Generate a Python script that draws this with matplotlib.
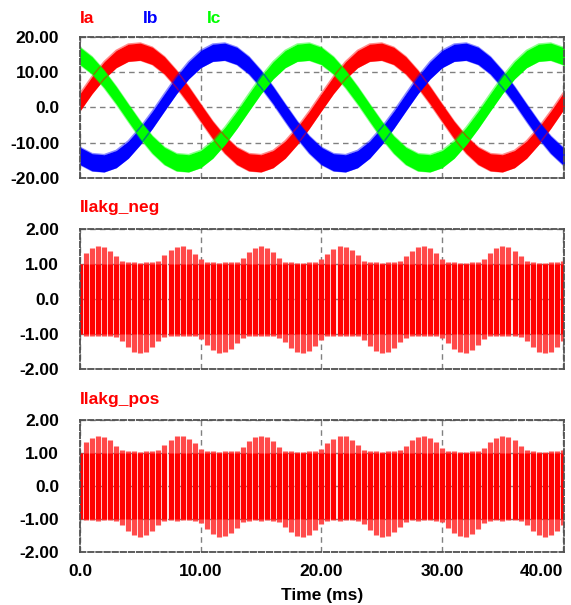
import numpy as np
import matplotlib
matplotlib.use("Agg")
import matplotlib.pyplot as plt

plt.rcParams['font.family'] = ['Liberation Sans', 'DejaVu Sans']
plt.rcParams['font.weight'] = 'bold'
plt.rcParams['font.size'] = 12.5

# phase currents, centre of the ripple band, one sample per ms (0..42 ms)
t_ph = np.arange(0, 43, 1.0)
ia = [1.5, 6.4, 10.6, 13.8, 15.6, 15.9, 14.7, 12.0, 8.1, 3.5,
      -1.5, -6.4, -10.6, -13.8, -15.6, -15.9, -14.7, -12.0, -8.1, -3.5,
      1.5, 6.4, 10.6, 13.8, 15.6, 15.9, 14.7, 12.0, 8.1, 3.5,
      -1.5, -6.4, -10.6, -13.8, -15.6, -15.9, -14.7, -12.0, -8.1, -3.5,
      1.5, 6.4, 10.6]
ib = [-13.8, -15.6, -15.9, -14.7, -12.0, -8.1, -3.5, 1.5, 6.4, 10.6,
      13.8, 15.6, 15.9, 14.7, 12.0, 8.1, 3.5, -1.5, -6.4, -10.6,
      -13.8, -15.6, -15.9, -14.7, -12.0, -8.1, -3.5, 1.5, 6.4, 10.6,
      13.8, 15.6, 15.9, 14.7, 12.0, 8.1, 3.5, -1.5, -6.4, -10.6,
      -13.8, -15.6, -15.9]
ic = [14.7, 12.0, 8.1, 3.5, -1.5, -6.4, -10.6, -13.8, -15.6, -15.9,
      -14.7, -12.0, -8.1, -3.5, 1.5, 6.4, 10.6, 13.8, 15.6, 15.9,
      14.7, 12.0, 8.1, 3.5, -1.5, -6.4, -10.6, -13.8, -15.6, -15.9,
      -14.7, -12.0, -8.1, -3.5, 1.5, 6.4, 10.6, 13.8, 15.6, 15.9,
      14.7, 12.0, 8.1]
ripple = 2.45

# leakage current envelopes, one sample per 0.5 ms (0..40.5 ms)
t_lk = np.arange(0, 40.51, 0.5)
neg_upper = [1.00, 1.32, 1.45, 1.52, 1.48, 1.38, 1.22, 1.09, 1.05, 1.05,
             1.03, 1.05, 1.06, 1.10, 1.25, 1.40, 1.50, 1.51, 1.43, 1.30,
             1.13, 1.06, 1.05, 1.03, 1.05, 1.06, 1.07, 1.18, 1.35, 1.47,
             1.52, 1.47, 1.35, 1.18, 1.07, 1.05, 1.04, 1.03, 1.05, 1.06,
             1.13, 1.30, 1.43, 1.51, 1.50, 1.40, 1.25, 1.10, 1.06, 1.05,
             1.03, 1.05, 1.06, 1.09, 1.22, 1.38, 1.48, 1.52, 1.45, 1.32,
             1.15, 1.06, 1.05, 1.03, 1.04, 1.05, 1.07, 1.15, 1.32, 1.45,
             1.52, 1.48, 1.38, 1.22, 1.09, 1.05, 1.04, 1.03, 1.05, 1.05,
             1.10, 1.25]
neg_lower = [-1.00, -1.05, -1.05, -1.06, -1.05, -1.05, -1.08, -1.20, -1.38, -1.50,
             -1.55, -1.50, -1.38, -1.20, -1.08, -1.05, -1.06, -1.05, -1.05, -1.07,
             -1.14, -1.31, -1.45, -1.54, -1.52, -1.42, -1.27, -1.11, -1.06, -1.05,
             -1.06, -1.05, -1.06, -1.10, -1.24, -1.40, -1.51, -1.55, -1.48, -1.35,
             -1.17, -1.07, -1.05, -1.06, -1.05, -1.05, -1.07, -1.17, -1.35, -1.48,
             -1.55, -1.51, -1.40, -1.24, -1.10, -1.05, -1.06, -1.05, -1.05, -1.06,
             -1.11, -1.27, -1.42, -1.52, -1.54, -1.45, -1.31, -1.14, -1.07, -1.05,
             -1.06, -1.05, -1.05, -1.08, -1.20, -1.38, -1.50, -1.55, -1.50, -1.38,
             -1.20, -1.08]
# the positive-rail trace reads the same as the negative one
pos_upper = list(neg_upper)
pos_lower = list(neg_lower)

xticks = [0, 10, 20, 30, 40]
xticklabels = ["0.0", "10.00", "20.00", "30.00", "40.00"]
yt_top = [-20, -10, 0, 10, 20]
yl_top = ["-20.00", "-10.00", "0.0", "10.00", "20.00"]
yt_lk = [-2, -1, 0, 1, 2]
yl_lk = ["-2.00", "-1.00", "0.0", "1.00", "2.00"]

W, H = 571, 605
fig = plt.figure(figsize=(W / 100, H / 100), dpi=100)


def px_axes(x0, y0, x1, y1):
    return fig.add_axes([x0 / W, 1 - y1 / H, (x1 - x0) / W, (y1 - y0) / H])


def style(ax, yt, yl, show_x):
    ax.set_xlim(0, 40.1)
    ax.set_ylim(yt[0], yt[-1])
    ax.set_yticks(yt)
    ax.set_yticklabels(yl)
    ax.set_xticks(xticks)
    if show_x:
        ax.set_xticklabels(xticklabels)
        ax.get_xticklabels()[-1].set_ha('right')
    else:
        ax.set_xticklabels([])
    ax.tick_params(length=0, pad=15, axis='y')
    ax.tick_params(length=0, pad=9, axis='x')
    ax.grid(True, color='#808080', linestyle=(0, (4, 3)), linewidth=1)
    ax.set_axisbelow(True)
    for s in ax.spines.values():
        s.set_color('#505050')
        s.set_linestyle((0, (3, 1.5)))
        s.set_linewidth(1.3)


def leak(ax, lo, up):
    # lighter tips beyond the +-1 band, solid red core
    ax.vlines(t_lk, lo, up, color='#ff4a4a', lw=3.7)
    ax.vlines(t_lk, np.clip(lo, -1.0, None), np.clip(up, None, 1.0),
              color='#ff0000', lw=3.7)


ax1 = px_axes(80, 37.3, 564, 177.7)
for y, c in [(ia, '#ff0000'), (ib, '#0000ff'), (ic, '#00ff00')]:
    y = np.array(y)
    ax1.fill_between(t_ph, y - ripple, y + ripple, color=c, lw=0)
    ax1.plot(t_ph, y + ripple, color=c, lw=1.2, alpha=0.45)
    ax1.plot(t_ph, y - ripple, color=c, lw=1.2, alpha=0.45)
style(ax1, yt_top, yl_top, False)

ax2 = px_axes(80, 229, 564, 369)
leak(ax2, neg_lower, neg_upper)
style(ax2, yt_lk, yl_lk, False)

ax3 = px_axes(80, 420, 564, 551.7)
leak(ax3, pos_lower, pos_upper)
style(ax3, yt_lk, yl_lk, True)

for txt, x, y, c in [("Ia", 80, 23, '#ff0000'), ("Ib", 143, 23, '#0000ff'),
                     ("Ic", 207, 23, '#00ff00'), ("Ilakg_neg", 80, 212, '#ff0000'),
                     ("Ilakg_pos", 80, 404, '#ff0000')]:
    fig.text(x / W, 1 - y / H, txt, color=c, ha='left', va='baseline')

fig.text(322 / W, 1 - 600 / H, "Time (ms)", ha='center', va='baseline')

fig.savefig("out.png", dpi=100)
